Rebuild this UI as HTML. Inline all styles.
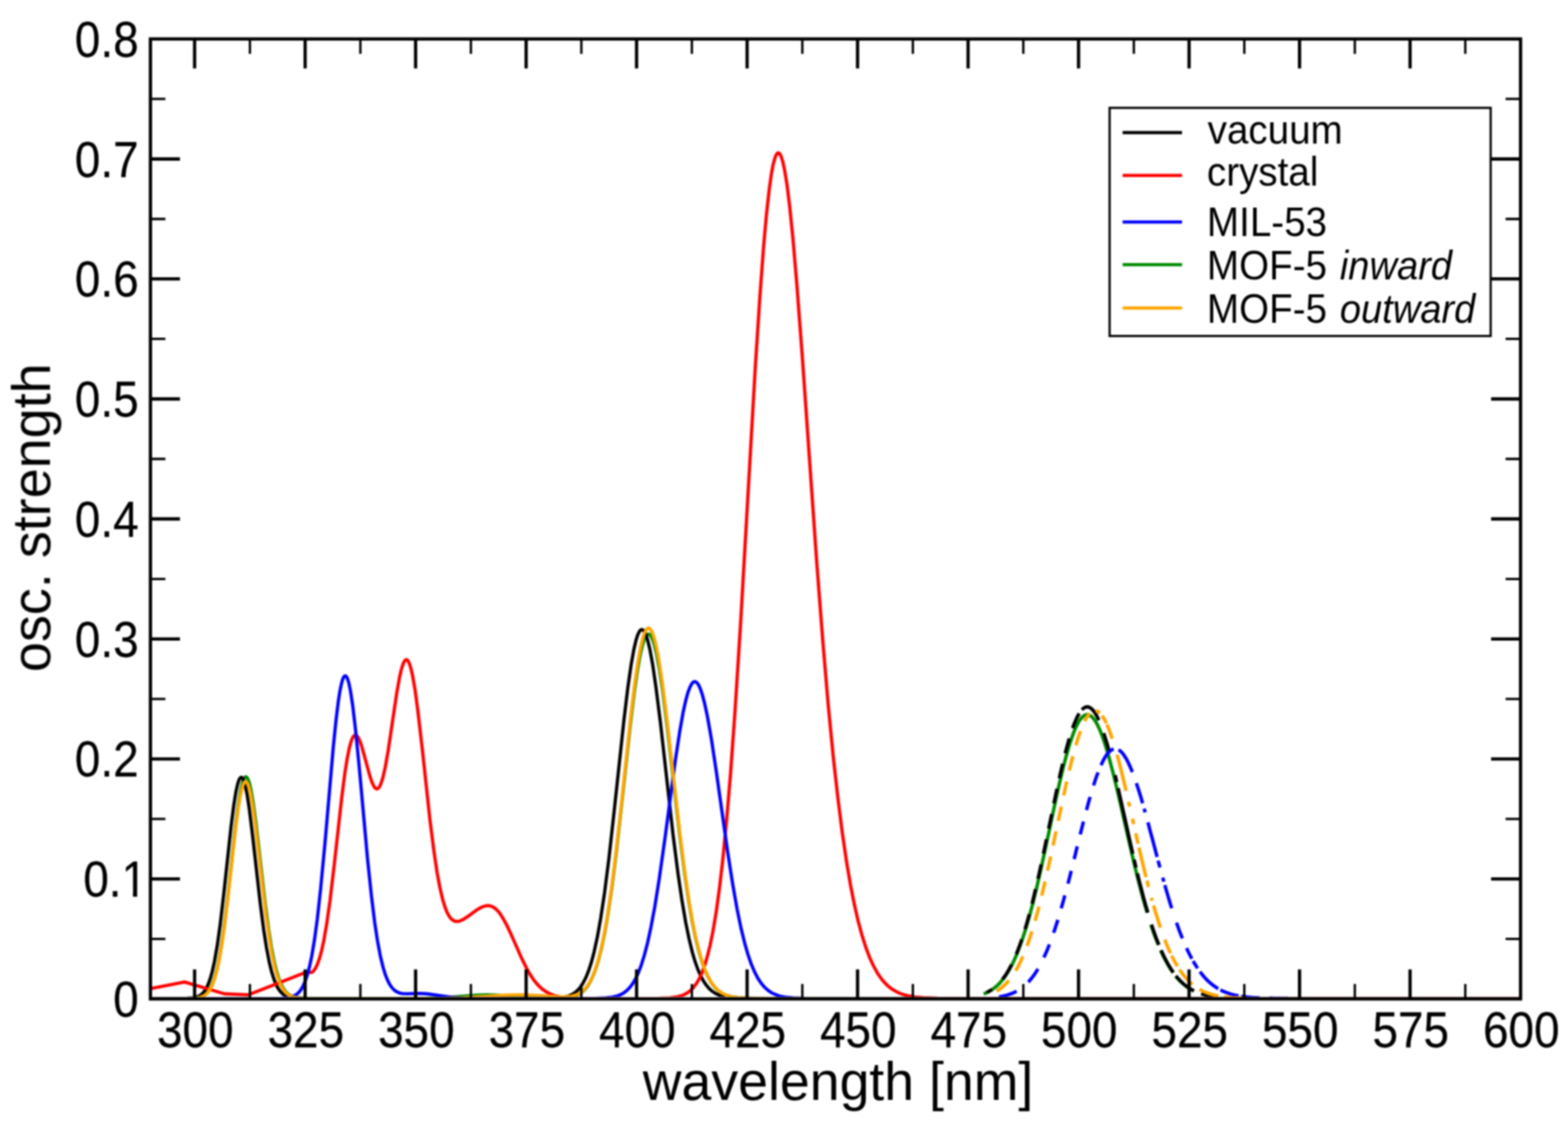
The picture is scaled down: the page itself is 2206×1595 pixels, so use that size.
<!DOCTYPE html>
<html lang="en">
<head>
<meta charset="utf-8">
<title>osc. strength vs wavelength</title>
<style>
html,body{margin:0;padding:0;background:#fff;}
body{width:2206px;height:1595px;overflow:hidden;}
svg{display:block;}
text{font-family:"Liberation Sans",sans-serif;fill:#000;}
.tick{font-size:69.5px;stroke:#000;stroke-width:0.3px;}
.axl{font-size:76.0px;}
.leg{font-size:56.5px;}
.it{font-style:italic;}
.cv path{fill:none;stroke-width:4.6;stroke-linejoin:round;stroke-linecap:butt;}
.cv path.em{stroke-width:4.8;}
</style>
</head>
<body>
<svg width="2206" height="1595" viewBox="0 0 2206 1595" role="img" aria-label="Oscillator strength versus wavelength">
<defs>
<filter id="soft" x="0" y="0" width="2206" height="1595" filterUnits="userSpaceOnUse" color-interpolation-filters="sRGB"><feGaussianBlur stdDeviation="0.9"/></filter>
<clipPath id="plot"><rect x="211.65" y="54.80" width="1927.60" height="1347.55"/></clipPath>
</defs>
<rect x="0" y="0" width="2206" height="1595" fill="#ffffff"/>
<g filter="url(#soft)">
<g class="cv" clip-path="url(#plot)">
<g stroke="#008b00">
<path d="M211.7 1404.3L268.4 1404.2L276.9 1403.5L281.6 1402.6L285.5 1401.1L288.6 1399.1L291.7 1396.2L294.8 1392.1L297.9 1386.2L301.0 1378.2L304.1 1367.7L307.3 1354.2L311.1 1332.8L315.0 1306.2L320.5 1261.4L331.3 1162.0L335.2 1131.8L338.3 1112.8L340.7 1102.4L342.2 1097.4L343.8 1094.2L344.6 1093.2L345.3 1092.7L346.1 1092.6L346.9 1093.0L347.7 1093.8L349.2 1096.7L350.8 1101.3L353.1 1111.1L356.2 1129.2L360.1 1158.0L373.3 1272.8L378.0 1308.1L381.9 1332.7L385.8 1352.7L388.9 1365.5L392.0 1375.7L395.1 1383.6L398.2 1389.6L401.3 1394.1L404.4 1397.3L407.5 1399.6L411.4 1401.6L416.1 1402.9L423.1 1403.8L437.1 1404.3L597.9 1404.2L622.0 1403.5L643.8 1401.9L670.2 1399.7L685.0 1399.2L700.5 1399.8L742.5 1403.1L765.8 1404.0L786.8 1404.0L797.7 1403.2L804.7 1402.1L810.1 1400.4L814.8 1398.2L818.7 1395.6L822.6 1392.0L826.5 1387.2L830.3 1381.0L834.2 1373.0L838.1 1362.9L842.0 1350.5L845.9 1335.3L850.6 1313.1L855.2 1286.4L860.7 1249.6L866.9 1200.5L876.2 1116.8L887.1 1016.8L892.5 972.5L897.2 940.5L901.1 919.2L904.2 906.3L906.5 899.3L908.9 894.5L910.4 892.7L912.0 891.9L912.7 891.9L914.3 892.8L915.8 894.6L918.2 899.4L920.5 906.4L923.6 919.1L927.5 939.9L932.2 970.8L938.4 1019.7L956.3 1174.9L963.3 1229.2L968.7 1266.0L974.1 1297.5L978.8 1320.2L983.5 1339.1L988.1 1354.6L992.0 1365.1L995.9 1373.7L999.8 1380.7L1003.7 1386.3L1007.6 1390.7L1012.2 1394.7L1016.9 1397.6L1022.3 1400.0L1028.5 1401.8L1037.1 1403.1L1049.5 1404.0L1080.6 1404.3L2139.2 1404.3"/>
<path class="em" d="M1529.6 1005.1L1528.1 1005.3L1526.6 1005.8L1525.1 1006.6L1523.6 1007.7L1522.1 1009.1L1520.6 1010.8L1519.0 1013.0L1517.5 1015.4L1516.0 1018.1L1514.5 1021.0L1513.0 1024.3L1511.5 1027.8L1510.0 1031.6L1508.6 1035.6L1507.1 1040.0L1505.6 1044.5L1504.1 1049.3L1502.6 1054.3L1501.1 1059.6L1499.6 1065.0L1498.0 1071.2L1496.5 1077.0L1495.0 1083.0L1493.5 1089.2L1492.0 1095.5L1490.5 1101.9L1489.0 1108.5L1487.5 1115.1L1486.0 1121.9L1484.5 1128.7L1483.1 1135.6L1481.6 1142.5L1480.1 1149.5L1478.6 1156.6L1477.0 1164.2L1475.5 1171.2L1474.0 1178.3L1472.5 1185.3L1471.0 1192.3L1469.5 1199.2L1468.0 1206.1L1466.5 1212.9L1465.0 1219.7L1463.5 1226.4L1462.0 1233.0L1460.5 1239.5L1459.1 1245.9L1457.6 1252.1L1455.9 1258.8L1454.5 1264.8L1453.0 1270.8L1451.5 1276.5L1450.0 1282.2L1448.5 1287.7L1447.0 1293.0L1445.5 1298.2L1444.0 1303.3L1442.5 1308.2L1441.0 1312.9L1439.5 1317.5L1438.0 1322.0L1436.5 1326.2L1434.9 1330.7L1433.4 1334.7L1431.9 1338.5L1430.5 1342.2L1429.0 1345.7L1427.5 1349.1L1426.0 1352.3L1424.5 1355.4L1423.0 1358.3L1421.5 1361.2L1420.0 1363.8L1418.5 1366.4L1417.0 1368.8L1415.5 1371.1L1413.9 1373.5L1412.4 1375.5L1410.9 1377.5L1409.4 1379.3L1407.9 1381.1L1406.5 1382.7L1405.0 1384.2L1403.5 1385.7L1402.0 1387.1L1400.5 1388.3L1399.0 1389.5L1397.5 1390.7L1396.0 1391.7L1394.5 1392.7L1392.9 1393.7L1391.4 1394.5L1389.9 1395.3L1388.4 1396.1L1386.9 1396.7L1385.4 1397.4L1383.9 1398.0M1529.6 1005.1L1531.1 1005.3L1532.6 1005.8L1534.0 1006.6L1535.5 1007.7L1537.2 1009.2L1538.6 1010.9L1540.1 1012.9L1541.6 1015.2L1543.1 1017.8L1544.6 1020.7L1546.1 1023.9L1547.6 1027.3L1549.1 1031.0L1550.7 1035.2L1552.2 1039.4L1553.7 1043.8L1555.2 1048.4L1556.7 1053.2L1558.2 1058.2L1559.7 1063.4L1561.2 1068.8L1562.6 1074.3L1564.1 1080.0L1565.8 1086.3L1567.3 1092.2L1568.7 1098.3L1570.2 1104.5L1571.7 1110.7L1573.2 1117.0L1574.7 1123.5L1576.2 1129.9L1577.7 1136.4L1579.3 1143.5L1580.8 1150.1L1582.3 1156.6L1583.8 1163.2L1585.3 1169.8L1586.8 1176.4L1588.3 1182.9L1589.8 1189.4L1591.3 1195.8L1592.7 1202.2L1594.4 1209.1L1595.9 1215.4L1597.3 1221.5L1598.8 1227.7L1600.3 1233.7L1601.8 1239.6L1603.3 1245.5L1604.8 1251.2L1606.3 1256.8L1607.9 1262.8L1609.4 1268.2L1610.9 1273.5L1612.4 1278.6L1613.9 1283.7M1619.2 1300.7L1620.7 1305.1L1622.2 1309.5L1623.7 1313.7L1625.1 1317.4L1626.6 1321.4L1628.1 1325.2L1629.6 1328.9M1632.9 1336.7L1634.5 1340.3L1636.0 1343.5L1637.6 1346.8L1639.3 1349.9L1640.9 1352.9L1642.4 1355.6L1644.0 1358.4L1645.6 1361.0L1647.2 1363.5L1648.7 1365.8L1650.3 1368.1M1653.9 1372.8L1655.4 1374.6L1656.9 1376.3L1658.4 1377.9L1659.9 1379.5L1661.4 1381.0L1662.9 1382.4L1664.4 1383.7L1665.9 1385.0L1667.4 1386.2L1668.9 1387.3L1670.3 1388.4L1671.8 1389.4L1673.3 1390.3L1674.8 1391.2L1676.3 1392.1L1677.8 1392.9L1679.3 1393.7M1390.0 1395.3L1392.8 1393.7L1395.6 1392.0L1398.4 1390.0L1401.2 1387.7L1404.0 1385.2M1519.0 1013.0L1521.8 1009.5L1524.5 1007.0L1527.2 1005.5L1530.0 1005.2L1532.8 1005.9L1535.5 1007.6L1538.3 1010.4L1541.0 1014.2"/>
</g>
<g stroke="#000000">
<path d="M211.7 1404.3L263.7 1404.1L271.5 1403.5L276.2 1402.5L280.0 1401.0L283.2 1399.0L286.3 1395.9L289.4 1391.6L292.5 1385.4L295.6 1377.0L298.7 1366.0L301.8 1351.9L305.7 1329.5L309.6 1301.9L315.0 1255.7L325.1 1162.2L329.0 1131.8L332.1 1112.8L334.5 1102.5L336.0 1097.7L337.6 1094.7L338.3 1093.8L339.1 1093.4L339.9 1093.5L340.7 1094.0L341.5 1095.0L343.0 1098.2L345.3 1106.3L347.7 1117.9L350.8 1138.1L355.4 1175.6L366.3 1272.0L371.0 1307.9L374.9 1332.9L378.8 1353.1L381.9 1366.0L385.0 1376.2L388.1 1384.1L391.2 1390.1L394.3 1394.5L397.4 1397.6L400.5 1399.9L404.4 1401.7L409.1 1403.0L416.1 1403.9L431.6 1404.3L772.1 1404.2L786.0 1403.6L793.8 1402.5L800.0 1400.9L804.7 1398.8L808.6 1396.4L812.5 1393.1L816.4 1388.7L820.2 1382.8L824.1 1375.3L828.0 1365.7L831.9 1353.8L835.8 1339.1L840.5 1317.6L845.1 1291.6L850.6 1255.3L856.8 1206.5L864.5 1136.9L877.8 1013.1L883.2 967.9L887.9 935.1L891.8 913.4L894.9 900.2L897.2 893.0L899.5 888.2L901.1 886.3L901.9 885.8L902.6 885.5L903.4 885.5L905.0 886.4L906.5 888.3L908.9 893.2L911.2 900.4L914.3 913.3L918.2 934.5L922.8 966.1L929.1 1016.0L946.9 1173.9L953.9 1228.9L959.4 1266.1L964.8 1297.9L969.5 1320.7L974.1 1339.6L978.0 1352.8L981.9 1363.7L985.8 1372.6L989.7 1379.8L993.6 1385.6L997.5 1390.2L1002.1 1394.4L1006.8 1397.4L1012.2 1399.9L1018.4 1401.7L1026.2 1403.0L1037.9 1403.9L1063.5 1404.3L2139.2 1404.3"/>
<path class="em" d="M1518.3 1003.5L1516.8 1006.0L1515.1 1009.2L1513.7 1012.4L1512.2 1015.9L1510.5 1020.0L1509.0 1024.1M1504.3 1038.7L1502.5 1045.2L1500.5 1052.4L1498.6 1059.6M1495.0 1074.2L1493.4 1081.0L1491.9 1087.5L1490.3 1094.7M1487.0 1109.5L1485.5 1116.4L1484.2 1122.9L1482.7 1130.0M1479.6 1144.9L1477.5 1155.2L1475.3 1165.4M1472.2 1180.5L1470.1 1190.6L1468.0 1200.7M1464.8 1215.8L1463.3 1222.6L1461.8 1229.4L1460.3 1236.0M1456.9 1250.6L1455.3 1257.4L1453.6 1264.6L1452.0 1271.1M1448.1 1285.8L1446.6 1291.3L1445.1 1296.6L1443.6 1301.8L1442.1 1306.8M1437.5 1321.2L1436.0 1325.5L1434.4 1330.1L1432.9 1334.1L1431.3 1338.3L1429.8 1342.0M1423.2 1356.6L1421.6 1359.7L1420.0 1362.7L1418.4 1365.6L1416.8 1368.2L1415.3 1370.6L1413.7 1373.0L1412.0 1375.2L1410.4 1377.4M1395.5 1391.7L1394.0 1392.7L1392.5 1393.6L1391.2 1394.4L1389.7 1395.2L1388.2 1395.9M1529.6 994.2L1531.1 994.3L1532.6 994.8L1534.0 995.6L1535.5 996.8L1537.0 998.2L1538.4 999.8L1539.9 1001.8L1541.4 1004.1L1542.9 1006.8L1544.4 1009.7L1545.9 1012.9M1552.8 1031.2L1554.4 1036.2L1556.1 1041.5L1557.6 1046.5L1559.2 1052.2L1560.8 1058.1M1568.9 1090.4L1571.1 1100.0M1573.1 1108.6L1574.7 1115.7L1576.3 1122.9L1577.8 1129.6L1579.4 1136.9L1581.1 1144.2L1582.7 1151.5L1584.2 1158.3L1585.8 1165.6L1587.4 1172.9L1589.0 1180.1L1590.5 1186.8L1592.1 1193.9L1593.7 1201.0M1595.6 1209.1L1598.2 1220.2M1600.2 1228.5L1601.8 1235.1L1603.4 1241.6L1605.1 1248.0L1606.7 1254.2L1608.4 1260.8L1610.0 1266.7L1611.6 1272.5L1613.3 1278.2L1614.9 1283.7M1620.1 1300.5L1621.6 1305.0L1623.1 1309.4L1624.6 1313.6L1625.9 1317.4L1627.4 1321.4L1628.9 1325.2L1630.4 1329.0M1633.7 1336.6L1635.3 1340.2L1636.8 1343.4L1638.4 1346.7L1640.0 1349.9L1641.5 1352.7L1643.1 1355.6L1644.6 1358.2L1646.2 1360.8L1647.8 1363.4L1649.3 1365.6L1650.9 1367.9M1654.6 1372.7L1656.0 1374.5L1657.5 1376.3L1659.0 1377.9L1660.5 1379.5L1662.0 1380.9L1663.5 1382.4L1665.0 1383.7L1666.5 1385.0L1668.0 1386.2L1669.5 1387.3L1671.0 1388.4L1672.5 1389.4L1674.0 1390.3L1675.4 1391.3L1676.9 1392.1L1678.4 1392.9L1679.9 1393.7M1689.9 1397.7L1692.7 1398.6L1695.6 1399.3L1698.4 1400.0L1701.2 1400.6L1704.0 1401.1L1706.9 1401.5L1709.7 1401.9L1712.5 1402.3M1522.0 998.3L1524.8 995.9L1527.5 994.5L1530.3 994.2L1533.1 995.1L1535.8 997.0L1538.6 1000.0"/>
</g>
<g stroke="#ff0000">
<path d="M211.7 1390.4L246.6 1383.7L259.8 1381.3L315.8 1397.9L349.2 1399.2L352.3 1398.1L430.1 1367.6L438.6 1367.7L439.4 1367.3L441.7 1364.9L444.1 1361.4L446.4 1356.6L449.5 1348.0L452.6 1336.6L455.7 1322.2L459.6 1299.7L464.3 1266.5L470.5 1214.0L480.6 1123.3L485.2 1087.2L488.4 1067.3L491.5 1051.8L493.8 1043.3L496.1 1037.5L497.7 1035.1L499.2 1034.0L500.0 1033.9L500.8 1034.0L502.3 1035.1L503.9 1037.2L506.2 1042.1L509.3 1051.1L515.6 1074.0L520.2 1091.0L523.3 1100.2L525.7 1105.3L527.2 1107.7L528.8 1109.1L529.5 1109.5L530.3 1109.5L531.1 1109.4L532.7 1108.2L534.2 1106.0L536.5 1100.6L538.9 1092.8L542.0 1079.0L545.9 1057.1L558.3 973.9L562.2 952.3L564.5 942.1L566.9 934.5L568.4 930.9L570.0 928.7L570.7 928.2L571.5 927.9L572.3 928.0L573.1 928.5L574.6 930.5L576.2 933.9L578.5 941.6L580.8 952.3L584.0 970.6L587.8 999.1L594.1 1053.4L604.9 1153.2L610.4 1196.6L615.0 1227.6L618.9 1248.5L622.8 1265.1L625.9 1275.4L629.0 1283.3L631.4 1287.7L633.7 1291.1L636.0 1293.5L638.4 1295.0L640.7 1295.9L643.8 1296.0L646.9 1295.4L650.8 1293.7L657.0 1289.8L671.8 1279.2L677.2 1276.1L681.9 1274.4L685.8 1273.8L688.9 1274.0L692.0 1274.9L695.1 1276.6L699.0 1279.8L702.9 1284.3L707.5 1291.3L713.0 1301.3L720.8 1318.1L734.0 1348.1L741.0 1362.1L746.4 1371.6L751.8 1379.5L757.3 1386.0L762.7 1391.0L768.2 1394.9L773.6 1397.8L779.8 1400.2L787.6 1402.0L796.9 1403.3L811.7 1404.0L856.8 1404.3L928.3 1404.1L942.3 1403.5L950.8 1402.4L957.8 1400.8L963.3 1398.6L967.9 1395.9L971.8 1392.9L975.7 1388.9L979.6 1383.7L983.5 1377.1L987.4 1368.8L991.2 1358.3L995.1 1345.4L999.0 1329.7L1002.9 1310.6L1007.6 1282.9L1012.2 1249.2L1016.9 1208.9L1022.3 1153.2L1027.8 1087.8L1034.0 1001.6L1041.8 878.9L1062.7 515.1L1069.0 418.2L1074.4 345.3L1078.3 301.7L1082.2 266.4L1085.3 244.5L1087.6 232.0L1090.0 222.9L1091.5 218.8L1093.1 216.2L1093.8 215.4L1094.6 215.1L1095.4 215.1L1096.2 215.5L1097.7 217.5L1099.3 220.9L1101.6 228.7L1103.9 239.7L1107.1 258.9L1110.9 289.8L1115.6 335.7L1121.0 399.1L1128.8 502.5L1149.0 790.2L1157.6 901.8L1165.3 992.6L1172.3 1064.5L1178.6 1120.7L1184.8 1169.7L1191.0 1212.1L1196.4 1244.1L1201.9 1271.8L1207.3 1295.5L1212.8 1315.8L1218.2 1332.8L1223.6 1347.1L1229.1 1359.0L1234.5 1368.7L1240.0 1376.7L1245.4 1383.0L1250.8 1388.1L1256.3 1392.1L1262.5 1395.6L1269.5 1398.5L1277.3 1400.6L1286.6 1402.3L1299.0 1403.4L1319.2 1404.1L1411.0 1404.3L2139.2 1404.3"/>
</g>
<g stroke="#0000ff">
<path d="M211.7 1404.3L393.5 1404.2L402.9 1403.6L409.1 1402.5L413.0 1401.1L416.8 1398.9L420.0 1396.2L423.1 1392.5L426.2 1387.3L429.3 1380.3L432.4 1371.2L435.5 1359.4L438.6 1344.7L442.5 1321.5L446.4 1292.8L451.0 1251.0L457.3 1184.8L468.9 1050.8L472.8 1012.4L475.9 987.1L478.2 972.1L480.6 960.8L482.1 955.5L483.7 952.1L484.5 951.2L485.2 950.7L486.0 950.6L486.8 951.1L487.6 952.0L489.1 955.3L490.7 960.4L493.0 971.4L496.1 991.6L500.0 1024.4L505.5 1080.1L517.1 1208.3L522.6 1260.4L527.2 1297.8L531.1 1323.4L535.0 1344.2L538.9 1360.4L542.0 1370.5L545.1 1378.4L548.2 1384.5L551.3 1389.0L554.4 1392.3L557.5 1394.6L561.4 1396.4L566.1 1397.5L572.3 1397.8L591.0 1397.3L601.1 1397.9L616.6 1400.0L634.5 1402.5L650.0 1403.7L672.6 1404.2L837.3 1404.2L852.1 1403.6L861.4 1402.5L867.7 1401.1L873.1 1399.0L877.8 1396.4L882.4 1392.7L886.3 1388.6L890.2 1383.3L894.1 1376.7L898.0 1368.5L901.9 1358.4L906.5 1343.6L911.2 1325.6L915.8 1304.2L921.3 1274.9L927.5 1235.9L936.1 1175.0L950.0 1070.3L956.3 1029.0L960.9 1002.8L964.8 985.1L967.9 973.9L970.3 967.5L972.6 962.8L974.1 960.7L975.7 959.3L977.2 958.8L978.8 959.1L980.4 960.1L982.7 963.2L985.0 968.0L988.1 977.1L991.2 988.8L995.1 1007.0L1000.6 1037.9L1007.6 1084.1L1023.9 1199.4L1030.9 1244.1L1037.1 1279.1L1042.5 1305.4L1048.0 1327.7L1052.6 1343.6L1057.3 1356.9L1062.0 1367.8L1066.6 1376.6L1071.3 1383.5L1076.0 1388.9L1080.6 1393.0L1085.3 1396.2L1090.7 1398.8L1096.9 1400.9L1104.7 1402.5L1115.6 1403.6L1134.3 1404.2L2135.4 1404.3L2139.2 1404.3"/>
<path class="em" d="M1566.8 1053.5L1565.1 1054.1L1563.5 1054.9L1561.9 1056.1L1560.3 1057.6L1558.7 1059.4L1557.1 1061.5L1555.4 1063.9L1553.8 1066.5L1552.2 1069.5M1544.9 1086.3L1543.2 1090.6L1541.6 1095.3L1540.1 1099.7L1538.5 1104.7M1533.7 1120.8L1531.9 1127.0L1530.3 1132.9L1528.6 1139.3M1524.3 1155.5L1522.9 1161.4L1521.2 1167.8L1519.7 1173.7M1515.6 1190.3L1514.1 1196.3L1512.7 1202.4L1511.2 1208.4M1507.1 1224.9L1505.6 1230.8L1504.0 1237.1L1502.5 1242.9M1498.1 1259.4L1496.4 1265.8L1494.7 1271.6L1493.0 1277.7M1488.3 1293.7L1486.8 1298.5L1485.3 1303.1L1483.8 1307.7L1482.3 1312.1M1476.5 1328.3L1474.8 1332.4L1473.4 1336.1L1471.7 1339.9L1470.2 1343.3L1468.6 1346.8M1460.3 1362.8L1458.8 1365.2L1457.3 1367.6L1455.8 1369.8L1454.3 1372.0L1452.7 1374.2L1451.2 1376.1L1449.7 1377.9L1448.2 1379.6L1446.7 1381.3M1573.6 1054.6L1575.1 1055.5L1576.6 1056.7L1578.1 1058.2L1579.6 1059.9L1581.1 1061.9L1582.5 1064.1L1584.2 1066.7L1585.7 1069.4L1587.1 1072.3L1588.6 1075.4L1590.1 1078.7L1591.6 1082.2L1593.1 1086.0M1598.7 1101.4L1600.2 1105.9L1601.7 1110.6L1603.2 1115.3L1604.6 1119.8L1606.1 1124.8L1607.5 1129.9M1609.7 1137.3L1611.1 1142.7M1615.0 1156.7L1616.6 1162.7L1618.2 1168.8L1619.9 1174.8L1621.5 1180.9L1623.1 1187.0L1624.7 1193.1L1626.3 1199.2L1627.9 1205.3M1629.3 1210.5L1631.9 1220.2M1635.8 1234.3L1637.4 1240.1M1638.8 1244.9L1640.4 1250.6L1642.0 1256.1L1643.6 1261.6L1645.2 1267.0L1646.8 1272.3L1648.5 1277.4M1655.2 1297.7L1656.8 1302.3L1658.5 1307.1L1660.1 1311.4L1661.9 1315.9L1663.5 1319.9M1669.4 1333.5L1670.8 1336.7L1672.3 1339.8L1673.8 1342.8L1675.3 1345.7L1676.8 1348.5M1678.6 1351.7L1680.2 1354.5L1681.8 1357.1L1683.3 1359.5L1684.9 1362.0M1688.3 1366.7L1689.7 1368.7L1691.2 1370.6L1692.7 1372.4L1694.2 1374.2L1695.8 1375.9L1697.3 1377.5L1698.8 1379.0L1700.3 1380.5L1701.8 1381.8L1703.3 1383.1L1704.8 1384.4L1706.3 1385.5L1707.9 1386.7L1709.4 1387.8L1710.9 1388.8L1712.4 1389.7L1713.9 1390.6M1405.5 1402.0L1408.3 1401.5L1411.0 1401.0L1413.8 1400.4L1416.5 1399.7L1419.3 1398.8L1422.0 1397.9L1424.8 1396.8L1427.5 1395.6L1430.3 1394.2M1717.0 1392.4L1719.8 1393.8L1722.7 1395.0L1725.5 1396.1L1728.3 1397.1L1731.2 1398.0L1734.0 1398.8L1736.8 1399.5L1739.7 1400.1L1742.5 1400.7M1746.0 1401.3L1748.9 1401.7L1751.8 1402.0L1754.7 1402.4L1757.6 1402.6L1760.4 1402.9L1763.3 1403.1L1766.2 1403.3L1769.1 1403.4L1772.0 1403.6M1786.0 1404.0L1788.9 1404.0L1791.8 1404.1L1794.7 1404.1L1797.6 1404.1L1800.4 1404.2L1803.3 1404.2L1806.2 1404.2L1809.1 1404.2L1812.0 1404.2M1549.0 1076.2L1551.9 1070.1L1554.7 1065.0L1557.6 1060.7L1560.5 1057.4L1563.3 1055.1L1566.2 1053.7"/>
</g>
<g stroke="#ffa500">
<path d="M211.7 1404.3L269.2 1404.1L277.7 1403.5L282.4 1402.5L286.3 1400.9L289.4 1398.8L292.5 1395.8L295.6 1391.4L298.7 1385.2L301.8 1376.8L304.9 1365.8L308.0 1351.8L311.9 1329.7L315.8 1302.5L321.2 1257.1L331.3 1165.9L335.2 1136.4L338.3 1118.0L340.7 1108.0L342.2 1103.4L343.8 1100.5L344.6 1099.7L345.3 1099.4L346.1 1099.5L346.9 1100.0L348.4 1102.4L350.0 1106.5L352.3 1115.6L355.4 1132.9L359.3 1160.8L367.9 1234.5L374.1 1286.5L378.8 1319.6L382.6 1342.3L386.5 1360.3L389.6 1371.6L392.8 1380.5L395.9 1387.4L399.0 1392.5L402.1 1396.2L405.2 1398.8L409.1 1401.1L413.7 1402.6L420.0 1403.7L430.8 1404.2L618.9 1404.2L650.0 1403.5L677.2 1401.9L709.9 1399.7L728.5 1399.2L748.0 1399.8L786.0 1402.0L796.9 1401.9L803.9 1401.2L809.4 1399.8L814.0 1397.8L817.9 1395.4L821.8 1392.1L825.7 1387.6L829.6 1381.7L833.5 1374.0L837.3 1364.3L841.2 1352.1L845.1 1337.3L849.8 1315.6L854.4 1289.3L859.9 1252.7L866.1 1203.7L874.7 1126.7L887.1 1010.4L892.5 965.4L897.2 932.8L901.1 911.2L904.2 898.1L906.5 890.9L908.9 886.1L910.4 884.3L911.2 883.7L912.0 883.5L912.7 883.5L914.3 884.3L915.8 886.3L918.2 891.1L920.5 898.2L923.6 911.1L927.5 932.2L932.2 963.7L938.4 1013.4L956.3 1171.1L963.3 1226.3L968.7 1263.8L974.1 1295.7L978.8 1318.8L983.5 1338.0L988.1 1353.8L992.0 1364.4L995.9 1373.2L999.8 1380.3L1003.7 1386.0L1007.6 1390.4L1012.2 1394.5L1016.9 1397.5L1022.3 1399.9L1028.5 1401.7L1037.1 1403.1L1049.5 1403.9L1079.8 1404.3L2139.2 1404.3"/>
<path class="em" d="M1520.1 1028.4L1518.4 1032.9L1516.8 1037.8L1515.2 1043.0L1513.6 1048.4M1509.4 1063.7L1507.7 1070.0L1506.0 1077.0L1504.4 1083.7M1500.8 1099.2L1499.3 1105.8L1497.9 1112.0L1496.4 1118.8M1493.1 1134.4L1491.0 1144.4L1488.8 1154.4M1485.7 1169.2L1483.6 1179.2L1481.5 1189.2M1478.1 1204.8L1476.7 1211.7L1475.3 1217.9L1473.8 1224.6M1470.3 1239.9L1468.7 1246.9L1467.2 1253.1L1465.6 1259.8M1461.7 1275.1L1459.9 1282.1L1458.1 1288.5L1456.3 1295.1M1451.8 1310.1L1450.0 1315.5L1448.3 1320.8L1446.7 1325.5L1444.9 1330.3M1439.0 1345.3L1437.2 1349.2L1435.6 1352.7L1434.0 1356.0L1432.3 1359.4L1430.5 1362.6L1428.9 1365.4M1418.3 1380.3L1416.7 1382.2L1415.1 1383.8L1413.5 1385.4L1411.9 1386.9L1410.2 1388.3L1408.6 1389.6L1407.0 1390.8L1405.4 1391.9L1403.8 1393.0L1402.2 1393.9M1533.0 1003.5L1531.2 1005.6L1529.5 1008.0L1527.6 1011.1L1525.9 1014.4M1557.2 1018.9L1558.7 1022.3L1560.2 1026.0L1561.8 1030.3L1563.3 1034.5L1564.8 1039.0M1571.5 1061.5L1573.2 1067.4L1574.8 1073.5L1576.3 1079.3L1577.9 1085.8L1579.5 1092.4L1581.0 1098.6L1582.6 1105.4L1584.2 1112.3M1587.8 1127.9L1589.3 1134.5M1593.2 1151.5L1594.9 1159.3M1597.8 1171.9L1599.5 1179.6L1601.1 1186.7M1602.4 1192.1L1604.0 1199.1L1605.7 1206.5L1607.4 1213.4L1609.0 1220.1L1610.7 1227.3L1612.3 1233.8M1613.6 1238.7L1615.8 1247.5M1619.9 1262.9L1621.0 1266.9M1622.9 1273.5L1624.5 1279.1L1626.1 1284.5L1627.8 1289.8L1629.4 1295.0L1631.0 1300.0L1632.6 1304.8M1638.7 1321.6L1640.3 1325.8L1641.9 1329.7L1643.5 1333.5L1645.2 1337.2L1646.8 1340.8M1648.4 1344.1L1650.0 1347.4L1651.6 1350.5L1653.2 1353.5L1654.9 1356.3L1656.5 1359.1M1659.5 1363.8L1661.0 1366.0L1662.4 1368.1L1663.9 1370.1L1665.6 1372.2L1667.1 1374.0L1668.5 1375.7L1670.0 1377.4L1671.5 1379.0L1673.1 1380.6L1674.6 1382.0L1676.1 1383.3L1677.6 1384.6M1402.8 1393.6L1405.6 1391.8L1408.3 1389.9L1411.0 1387.6L1413.8 1385.1L1416.5 1382.3L1419.3 1379.2M1687.6 1391.6L1690.5 1393.1L1693.5 1394.6L1696.4 1395.8L1699.3 1396.9L1702.3 1397.9L1705.2 1398.7L1708.1 1399.5L1711.1 1400.2L1714.0 1400.7M1722.0 1402.0L1724.9 1402.3L1727.8 1402.6L1730.7 1402.8L1733.6 1403.1L1736.4 1403.3L1739.3 1403.4L1742.2 1403.5L1745.1 1403.7L1748.0 1403.8M1541.5 999.7L1543.5 1000.2L1545.5 1001.4L1547.5 1003.1M1550.5 1006.6L1552.5 1009.7L1554.5 1013.2L1556.5 1017.2"/>
</g>
</g>
<g stroke="#000" fill="none">
<path stroke-width="4.6" d="M273.8 1405.0V1363.5M273.8 54.8V96.3M429.3 1405.0V1363.5M429.3 54.8V96.3M584.7 1405.0V1363.5M584.7 54.8V96.3M740.2 1405.0V1363.5M740.2 54.8V96.3M895.6 1405.0V1363.5M895.6 54.8V96.3M1051.1 1405.0V1363.5M1051.1 54.8V96.3M1206.5 1405.0V1363.5M1206.5 54.8V96.3M1362.0 1405.0V1363.5M1362.0 54.8V96.3M1517.4 1405.0V1363.5M1517.4 54.8V96.3M1672.9 1405.0V1363.5M1672.9 54.8V96.3M1828.3 1405.0V1363.5M1828.3 54.8V96.3M1983.8 1405.0V1363.5M1983.8 54.8V96.3M211.7 1236.2H253.2M2139.2 1236.2H2097.8M211.7 1067.5H253.2M2139.2 1067.5H2097.8M211.7 898.7H253.2M2139.2 898.7H2097.8M211.7 729.9H253.2M2139.2 729.9H2097.8M211.7 561.1H253.2M2139.2 561.1H2097.8M211.7 392.3H253.2M2139.2 392.3H2097.8M211.7 223.6H253.2M2139.2 223.6H2097.8"/>
<path stroke-width="3.3" d="M351.6 1405.0V1384.0M351.6 54.8V75.8M507.0 1405.0V1384.0M507.0 54.8V75.8M662.5 1405.0V1384.0M662.5 54.8V75.8M817.9 1405.0V1384.0M817.9 54.8V75.8M973.4 1405.0V1384.0M973.4 54.8V75.8M1128.8 1405.0V1384.0M1128.8 54.8V75.8M1284.3 1405.0V1384.0M1284.3 54.8V75.8M1439.7 1405.0V1384.0M1439.7 54.8V75.8M1595.2 1405.0V1384.0M1595.2 54.8V75.8M1750.6 1405.0V1384.0M1750.6 54.8V75.8M1906.1 1405.0V1384.0M1906.1 54.8V75.8M2061.5 1405.0V1384.0M2061.5 54.8V75.8M211.7 1320.6H232.7M2139.2 1320.6H2118.2M211.7 1151.8H232.7M2139.2 1151.8H2118.2M211.7 983.1H232.7M2139.2 983.1H2118.2M211.7 814.3H232.7M2139.2 814.3H2118.2M211.7 645.5H232.7M2139.2 645.5H2118.2M211.7 476.7H232.7M2139.2 476.7H2118.2M211.7 308.0H232.7M2139.2 308.0H2118.2M211.7 139.2H232.7M2139.2 139.2H2118.2"/>
<rect x="211.65" y="54.80" width="1927.60" height="1350.20" stroke-width="4.6"/>
</g>
<g class="tick">
<text transform="translate(274.8 1472.8) scale(0.928 1)" text-anchor="middle">300</text>
<text transform="translate(430.3 1472.8) scale(0.928 1)" text-anchor="middle">325</text>
<text transform="translate(585.7 1472.8) scale(0.928 1)" text-anchor="middle">350</text>
<text transform="translate(741.2 1472.8) scale(0.928 1)" text-anchor="middle">375</text>
<text transform="translate(896.6 1472.8) scale(0.928 1)" text-anchor="middle">400</text>
<text transform="translate(1052.1 1472.8) scale(0.928 1)" text-anchor="middle">425</text>
<text transform="translate(1207.5 1472.8) scale(0.928 1)" text-anchor="middle">450</text>
<text transform="translate(1363.0 1472.8) scale(0.928 1)" text-anchor="middle">475</text>
<text transform="translate(1518.4 1472.8) scale(0.928 1)" text-anchor="middle">500</text>
<text transform="translate(1673.9 1472.8) scale(0.928 1)" text-anchor="middle">525</text>
<text transform="translate(1829.3 1472.8) scale(0.928 1)" text-anchor="middle">550</text>
<text transform="translate(1984.8 1472.8) scale(0.928 1)" text-anchor="middle">575</text>
<text transform="translate(2140.2 1472.8) scale(0.928 1)" text-anchor="middle">600</text>
<text transform="translate(195.0 1429.9) scale(0.928 1)" text-anchor="end">0</text>
<text transform="translate(206.8 1261.1) scale(0.928 1)" text-anchor="end">0.1</text>
<text transform="translate(195.0 1092.4) scale(0.928 1)" text-anchor="end">0.2</text>
<text transform="translate(195.0 923.6) scale(0.928 1)" text-anchor="end">0.3</text>
<text transform="translate(195.0 754.8) scale(0.928 1)" text-anchor="end">0.4</text>
<text transform="translate(195.0 586.0) scale(0.928 1)" text-anchor="end">0.5</text>
<text transform="translate(195.0 417.3) scale(0.928 1)" text-anchor="end">0.6</text>
<text transform="translate(195.0 248.5) scale(0.928 1)" text-anchor="end">0.7</text>
<text transform="translate(195.0 79.7) scale(0.928 1)" text-anchor="end">0.8</text>
</g>
<rect x="172" y="1254.5" width="15" height="9.5" fill="#fff"/><rect x="193" y="1254.5" width="14" height="9.5" fill="#fff"/>
<text class="axl" transform="translate(904.3 1546.7) scale(0.993 1)">wavelength [nm]</text>
<text class="axl" transform="translate(70.3 728.2) rotate(-90) scale(0.998 1)" text-anchor="middle">osc. strength</text>
<rect x="1561.1" y="151.7" width="536.1" height="320.9" fill="#fff" stroke="#000" stroke-width="3.1"/>
<path d="M1579.4 186.5H1663" stroke="#000000" stroke-width="4.6" fill="none"/>
<text class="leg" transform="translate(1699.0 202.4) scale(0.961 1)">vacuum</text>
<path d="M1579.4 246.7H1663" stroke="#ff0000" stroke-width="4.6" fill="none"/>
<text class="leg" transform="translate(1698.0 261.4) scale(0.961 1)">crystal</text>
<path d="M1579.4 312.2H1663" stroke="#0000ff" stroke-width="4.6" fill="none"/>
<text class="leg" transform="translate(1698.1 331.9) scale(0.961 1)">MIL-53</text>
<path d="M1579.4 372.3H1663" stroke="#008b00" stroke-width="4.6" fill="none"/>
<text class="leg" transform="translate(1698.1 392.8) scale(0.961 1)" xml:space="preserve">MOF-5 <tspan class="it" x="194.4" textLength="164.4" lengthAdjust="spacingAndGlyphs">inward</tspan></text>
<path d="M1579.4 433.3H1663" stroke="#ffa500" stroke-width="4.6" fill="none"/>
<text class="leg" transform="translate(1698.1 453.6) scale(0.961 1)" xml:space="preserve">MOF-5 <tspan class="it" x="194.4" textLength="198.5" lengthAdjust="spacingAndGlyphs">outward</tspan></text>
</g>
</svg>
</body>
</html>
